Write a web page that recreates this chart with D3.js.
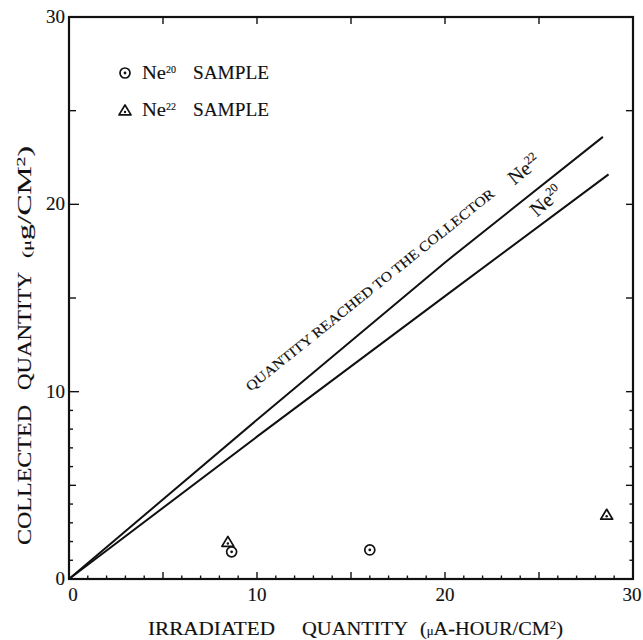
<!DOCTYPE html>
<html><head><meta charset="utf-8">
<script src="https://cdn.jsdelivr.net/npm/d3@7"></script>
<style>body{margin:0;background:#fff}svg{display:block}text{font-family:"Liberation Serif","DejaVu Serif",serif;fill:#111;stroke:#111;stroke-width:0.15}</style>
</head><body><svg id="c" width="643" height="640"></svg>
<script>
// ---- data ----
const xTickLabels = [0, 10, 20, 30];
const yTickLabels = [0, 10, 20, 30];
const bottomTicks = d3.range(1, 30);
const topTicks = [5, 10, 15, 20, 25];
const leftTicks = [1,2,3,4,5,6,7,8,9,10,15,20,25];
const rightTicks = [1,2,3,4,5,6,7,8,9,10,15,20,25];
const ne22Line = [[0,0],[10,8.5],[20,16.9],[28.4,23.6]];
const ne20Line = [[0,0],[10,7.6],[20,15.1],[28.7,21.6]];
const ne20Samples = [[8.65,1.45],[16.0,1.55]];
const ne22Samples = [[8.45,1.95],[28.6,3.4]];

const svg = d3.select("#c");
const x = d3.scaleLinear().domain([0,30]).range([69,633]);
const y = d3.scaleLinear().domain([0,30]).range([579,17]);
const ink = "#111";

// frame
svg.append("rect").attr("x",x(0)).attr("y",y(30)).attr("width",x(30)-x(0)).attr("height",y(0)-y(30))
  .attr("fill","none").attr("stroke",ink).attr("stroke-width",2.2);

// ticks
const g = svg.append("g").attr("stroke",ink).attr("stroke-width",1.4);
g.selectAll(".bt").data(bottomTicks).join("line")
  .attr("x1",d=>x(d)).attr("x2",d=>x(d)).attr("y1",y(0)).attr("y2",d=>y(0)-(d%5===0?7:3.5));
g.selectAll(".tt").data(topTicks).join("line")
  .attr("x1",d=>x(d)).attr("x2",d=>x(d)).attr("y1",y(30)).attr("y2",y(30)+7);
g.selectAll(".lt").data(leftTicks).join("line")
  .attr("y1",d=>y(d)).attr("y2",d=>y(d)).attr("x1",x(0)).attr("x2",d=>x(0)+(d%10===0?10:(d%5===0?7:4)));
g.selectAll(".rt").data(rightTicks).join("line")
  .attr("y1",d=>y(d)).attr("y2",d=>y(d)).attr("x1",x(30)).attr("x2",d=>x(30)-(d%5===0?7:3.5));

// tick labels
svg.selectAll(".xl").data(xTickLabels).join("text")
  .attr("x",d=>d===0?x(d)+4:(d===30?x(d)-1:x(d))).attr("y",y(0)+22).attr("text-anchor","middle")
  .attr("font-size",19).text(d=>d);
svg.selectAll(".yl").data(yTickLabels).join("text")
  .attr("x",x(0)-4).attr("y",d=>y(d)+6).attr("text-anchor","end")
  .attr("font-size",19).text(d=>d);

// axis titles
const xt = svg.append("g").attr("font-size",19);
xt.append("text").attr("x",148).attr("y",635).attr("textLength",127).attr("lengthAdjust","spacingAndGlyphs").text("IRRADIATED");
xt.append("text").attr("x",302).attr("y",635).attr("textLength",106).attr("lengthAdjust","spacingAndGlyphs").text("QUANTITY");
const xu = xt.append("text").attr("x",420).attr("y",635).attr("textLength",143).attr("lengthAdjust","spacingAndGlyphs");
xu.append("tspan").text("(");
xu.append("tspan").attr("font-size",12).text("μ");
xu.append("tspan").text("A-HOUR/CM");
xu.append("tspan").attr("font-size",12).attr("dy",-6).text("2");
xu.append("tspan").attr("dy",6).text(")");

const yt = svg.append("g").attr("transform","translate(31,0) rotate(-90)").attr("font-size",19);
yt.append("text").attr("x",-545).attr("y",0).attr("textLength",140).attr("lengthAdjust","spacingAndGlyphs").text("COLLECTED");
yt.append("text").attr("x",-390).attr("y",0).attr("textLength",118).attr("lengthAdjust","spacingAndGlyphs").text("QUANTITY");
const yu = yt.append("text").attr("x",-258).attr("y",0).attr("textLength",112).attr("lengthAdjust","spacingAndGlyphs");
yu.append("tspan").attr("font-size",13).text("(");
yu.append("tspan").attr("font-size",12).text("μ");
yu.append("tspan").text("g/CM");
yu.append("tspan").attr("font-size",12).attr("dy",-6).text("2");
yu.append("tspan").attr("dy",6).text(")");

// lines
const line = d3.line().x(d=>x(d[0])).y(d=>y(d[1]));
[ne22Line, ne20Line].forEach(L=>{
  svg.append("path").attr("d",line(L)).attr("fill","none").attr("stroke",ink).attr("stroke-width",2);
});

// line labels
function supLabel(px, py, ang, base, sup, fs){
  const t = svg.append("text").attr("transform",`translate(${px},${py}) rotate(${ang})`).attr("font-size",fs);
  t.append("tspan").text(base);
  t.append("tspan").attr("font-size",fs*0.6).attr("dy",-fs*0.38).text(sup);
  return t;
}
supLabel(x(23.7), y(21.0), -39, "Ne", "22", 20);
supLabel(x(24.9), y(19.3), -41, "Ne", "20", 20);
svg.append("text").attr("transform",`translate(${x(9.65)},${y(10.0)}) rotate(-38.7)`)
  .attr("font-size",14).attr("textLength",314).attr("lengthAdjust","spacingAndGlyphs")
  .text("QUANTITY REACHED TO THE COLLECTOR");

// markers
function circ(sel, cx, cy){
  sel.append("circle").attr("cx",cx).attr("cy",cy).attr("r",5).attr("fill","#fff").attr("stroke",ink).attr("stroke-width",1.7);
  sel.append("circle").attr("cx",cx).attr("cy",cy).attr("r",1.4).attr("fill",ink);
}
function tri(sel, cx, cy){
  const s=6;
  sel.append("path").attr("d",`M${cx},${cy-s}L${cx+s*1.0},${cy+s*0.65}L${cx-s*1.0},${cy+s*0.65}Z`)
    .attr("fill","#fff").attr("stroke",ink).attr("stroke-width",1.7).attr("stroke-linejoin","round");
  sel.append("circle").attr("cx",cx).attr("cy",cy+1).attr("r",1.2).attr("fill",ink);
}
const mk = svg.append("g");
ne22Samples.forEach(d=>tri(mk, x(d[0]), y(d[1])));
ne20Samples.forEach(d=>circ(mk, x(d[0]), y(d[1])));

// legend
const leg = svg.append("g");
circ(leg, 125, 73);
tri(leg, 125, 111);
[["20",79],["22",116]].forEach(([s,by])=>{
  leg.append("text").attr("x",142).attr("y",by).attr("font-size",18).attr("textLength",24).attr("lengthAdjust","spacingAndGlyphs").text("Ne");
  leg.append("text").attr("x",166).attr("y",by-6).attr("font-size",10).text(s);
  leg.append("text").attr("x",193).attr("y",by).attr("font-size",18).attr("textLength",76).attr("lengthAdjust","spacingAndGlyphs").text("SAMPLE");
});
</script></body></html>
